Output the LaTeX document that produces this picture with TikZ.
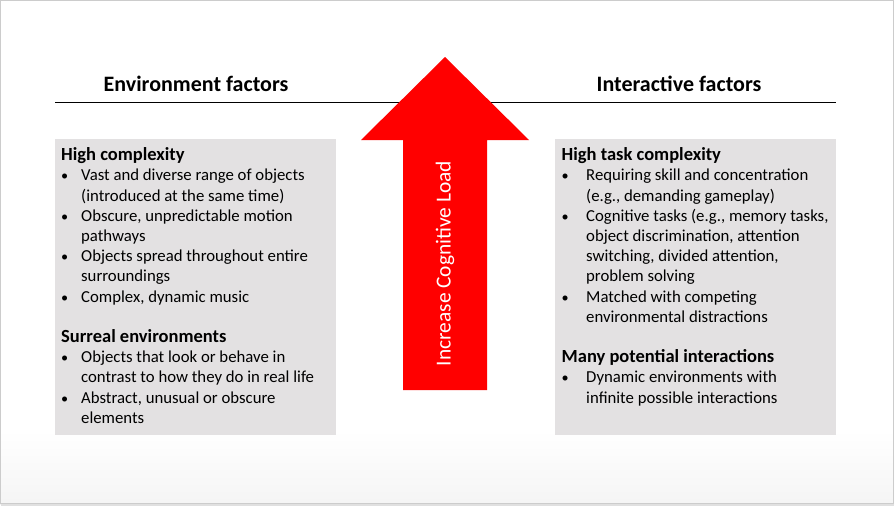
\documentclass[tikz,border=0pt]{standalone}
\usepackage{fontspec}
\setmainfont{Carlito}
\definecolor{boxgray}{RGB}{227,225,226}
\definecolor{arrowred}{RGB}{255,0,0}
\newcommand{\hd}[1]{{\fontsize{18.5}{20.2}\selectfont\bfseries #1}}
\newcommand{\bulL}[1]{\makebox[20pt][l]{\scalebox{0.85}{\textbullet}}#1}
\newcommand{\cntL}[1]{\hspace*{20pt}#1}
\newcommand{\bulR}[1]{\makebox[24.5pt][l]{\scalebox{0.85}{\textbullet}}#1}
\newcommand{\cntR}[1]{\hspace*{24.5pt}#1}
\tikzset{
  panel/.style={fill=boxgray, draw=none},
  heading/.style={font=\fontsize{22}{26}\selectfont\bfseries, anchor=base, inner sep=0pt},
  body/.style={font=\fontsize{16.75}{20.2}\selectfont, align=left, anchor=north west, inner sep=0pt},
  loadtext/.style={rotate=90, text=white, font=\fontsize{21.4}{25}\selectfont, inner sep=0pt}
}
\begin{document}
\begin{tikzpicture}[x=1pt,y=-1pt]
\useasboundingbox (0,0) rectangle (895,506);
\shade[top color=white, bottom color=black!4] (0,430) rectangle (894,504);
\draw[black!20] (0.5,0.5) rectangle (893.5,503.5);
\draw[black!12, line width=1.5pt] (1,505) -- (894,505);
% heading rule
\draw[line width=1pt] (55,102) -- (836,102);
% headings
\node[heading] (envh) at (196,91.5) {Environment factors};
\node[heading] (inth) at (679,91.5) {Interactive factors};
% panels
\fill[panel] (55,139) rectangle (336,435);
\fill[panel] (555,139) rectangle (836,435);
% arrow
\fill[arrowred] (445,57) -- (529,140) -- (487,140) -- (487,390) -- (403,390) -- (403,140) -- (361,140) -- cycle;
\node[loadtext] (load) at (445,263.5) {Increase Cognitive Load};
% left body
\node[body] (lbody) at (61,145.5) {%
\rule{0pt}{15pt}\hd{High complexity}\\
\bulL{Vast and diverse range of objects}\\
\cntL{(introduced at the same time)}\\
\bulL{Obscure, unpredictable motion}\\
\cntL{pathways}\\
\bulL{Objects spread throughout entire}\\
\cntL{surroundings}\\
\bulL{Complex, dynamic music}\\[20.2pt]
\hd{Surreal environments}\\
\bulL{Objects that look or behave in}\\
\cntL{contrast to how they do in real life}\\
\bulL{Abstract, unusual or obscure}\\
\cntL{elements}};
% right body
\node[body] (rbody) at (561.5,145.5) {%
\rule{0pt}{15pt}\hd{High task complexity}\\
\bulR{Requiring skill and concentration}\\
\cntR{(e.g., demanding gameplay)}\\
\bulR{Cognitive tasks (e.g., memory tasks,}\\
\cntR{object discrimination, attention}\\
\cntR{switching, divided attention,}\\
\cntR{problem solving}\\
\bulR{Matched with competing}\\
\cntR{environmental distractions}\\[20.2pt]
\hd{Many potential interactions}\\
\bulR{Dynamic environments with}\\
\cntR{infinite possible interactions}};
\end{tikzpicture}
\end{document}
